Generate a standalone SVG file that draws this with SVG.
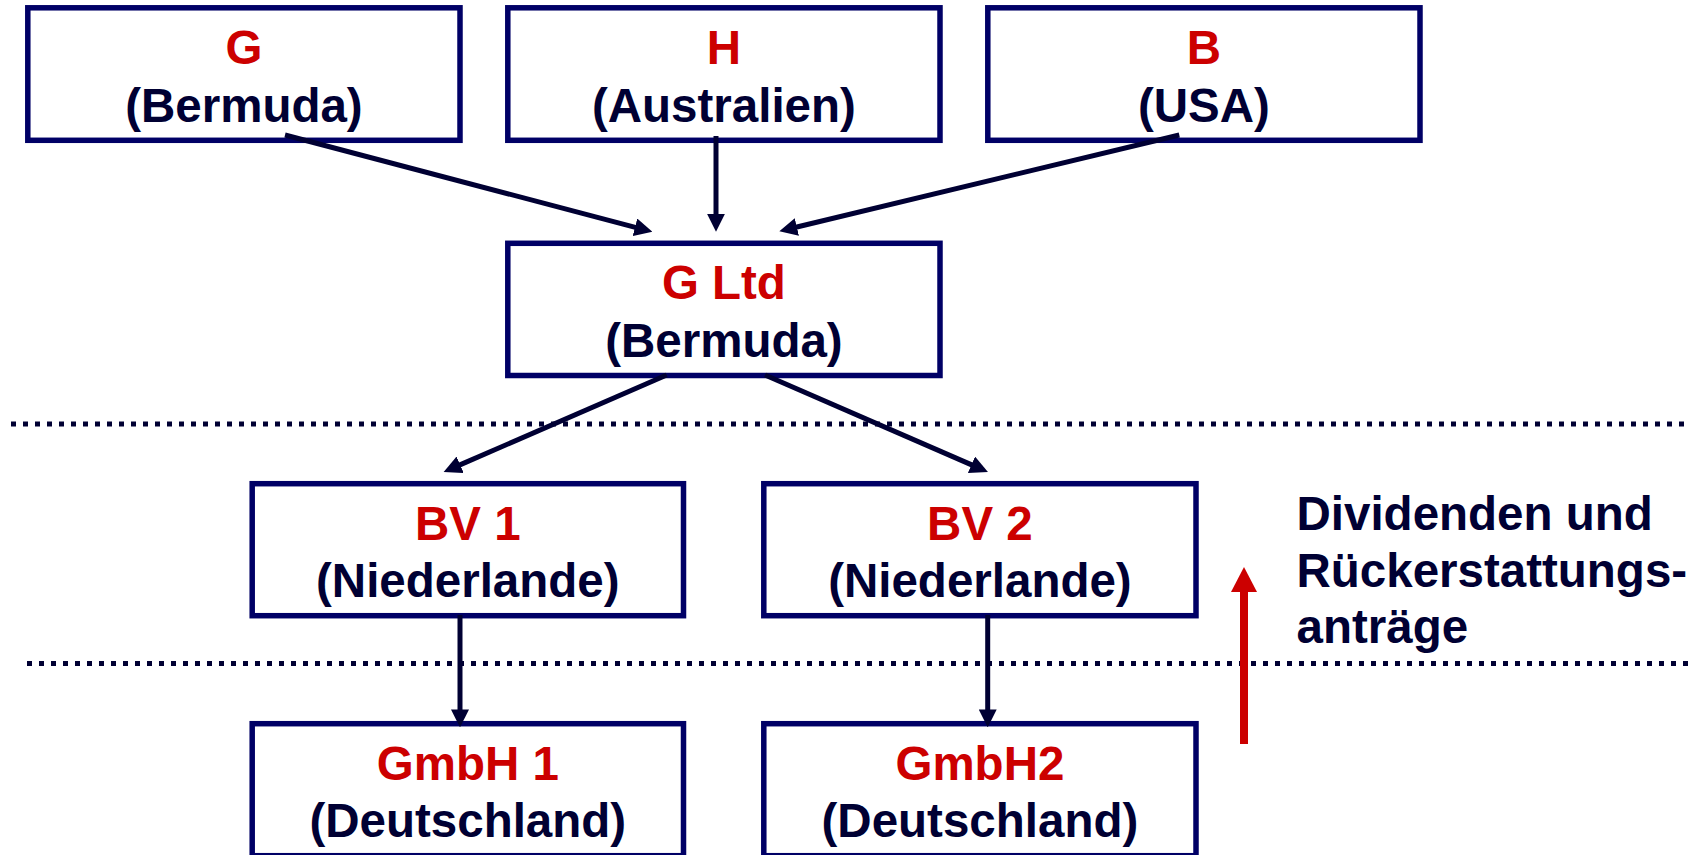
<svg xmlns="http://www.w3.org/2000/svg" width="1702" height="855" viewBox="0 0 1702 855">
<style>
.box{fill:#FFFFFF;stroke:#000066;stroke-width:5.5}
.t{font-family:"Liberation Sans",Arial,sans-serif;font-weight:bold;font-size:47.5px;text-anchor:middle}
.r{fill:#CC0000}
.d{fill:#000033}
.c{stroke:#000033;stroke-width:5;fill:none}
.dot{stroke:#000033;stroke-width:5;stroke-dasharray:5 7;fill:none}
.side{font-family:"Liberation Sans",Arial,sans-serif;font-weight:bold;font-size:47.5px;fill:#000033}
</style>
<defs>
<marker id="ah" markerUnits="userSpaceOnUse" markerWidth="18" markerHeight="18" refX="5" refY="8.5" orient="auto" viewBox="0 0 17 17">
<path d="M0,0 L17,8.5 L0,17 z" fill="#000033"/>
</marker>
<marker id="rh" markerUnits="userSpaceOnUse" markerWidth="26" markerHeight="26" refX="4" refY="12.2" orient="auto" viewBox="0 0 24 24.4">
<path d="M0,0 L23.4,12.2 L0,24.4 z" fill="#CC0000"/>
</marker>
</defs>
<rect width="1702" height="855" fill="#FFFFFF"/>
<g id="separators">
<line class="dot" x1="11" y1="424" x2="1688" y2="424"/>
<line class="dot" x1="27" y1="663.5" x2="1688" y2="663.5"/>
</g>
<g id="node-G">
<rect class="box" x="27.8" y="7.8" width="432.2" height="132.5"/>
<text class="t r" x="243.9" y="64">G</text>
<text class="t d" x="243.9" y="121.5">(Bermuda)</text>
</g>
<g id="node-H">
<rect class="box" x="507.8" y="7.8" width="432.2" height="132.5"/>
<text class="t r" x="723.9" y="64">H</text>
<text class="t d" x="723.9" y="121.5">(Australien)</text>
</g>
<g id="node-B">
<rect class="box" x="987.8" y="7.8" width="432.2" height="132.5"/>
<text class="t r" x="1203.9" y="64">B</text>
<text class="t d" x="1203.9" y="121.5">(USA)</text>
</g>
<g id="node-GLtd">
<rect class="box" x="507.8" y="243.3" width="432.2" height="132.2"/>
<text class="t r" x="723.9" y="299.3">G Ltd</text>
<text class="t d" x="723.9" y="356.8">(Bermuda)</text>
</g>
<g id="node-BV1">
<rect class="box" x="252.2" y="483.7" width="431.3" height="132"/>
<text class="t r" x="467.8" y="539.5">BV 1</text>
<text class="t d" x="467.8" y="597">(Niederlande)</text>
</g>
<g id="node-BV2">
<rect class="box" x="763.8" y="483.7" width="432.2" height="132"/>
<text class="t r" x="979.9" y="539.5">BV 2</text>
<text class="t d" x="979.9" y="597">(Niederlande)</text>
</g>
<g id="node-GmbH1">
<rect class="box" x="252.2" y="723.7" width="431.3" height="132"/>
<text class="t r" x="467.8" y="779.5">GmbH 1</text>
<text class="t d" x="467.8" y="837">(Deutschland)</text>
</g>
<g id="node-GmbH2">
<rect class="box" x="763.8" y="723.7" width="432.2" height="132"/>
<text class="t r" x="979.9" y="779.5">GmbH2</text>
<text class="t d" x="979.9" y="837">(Deutschland)</text>
</g>
<g id="connectors">
<line class="c" x1="285" y1="135" x2="640.1" y2="228.6" marker-end="url(#ah)"/>
<line class="c" x1="716" y1="136" x2="716" y2="219" marker-end="url(#ah)"/>
<line class="c" x1="1179.3" y1="135" x2="791.7" y2="228.2" marker-end="url(#ah)"/>
<line class="c" x1="666.7" y1="375" x2="455.3" y2="466.9" marker-end="url(#ah)"/>
<line class="c" x1="765" y1="375" x2="976.3" y2="466.9" marker-end="url(#ah)"/>
<line class="c" x1="460" y1="615" x2="460" y2="714.7" marker-end="url(#ah)"/>
<line class="c" x1="987.7" y1="615" x2="987.7" y2="714.7" marker-end="url(#ah)"/>
</g>
<g id="flow-arrow">
<line x1="1244" y1="744" x2="1244" y2="587.7" stroke="#CC0000" stroke-width="8" marker-end="url(#rh)"/>
</g>
<g id="flow-label">
<text class="side" x="1296.5" y="530">Dividenden und</text>
<text class="side" x="1296.5" y="586.7">Rückerstattungs-</text>
<text class="side" x="1296.5" y="643.3">anträge</text>
</g>
</svg>
